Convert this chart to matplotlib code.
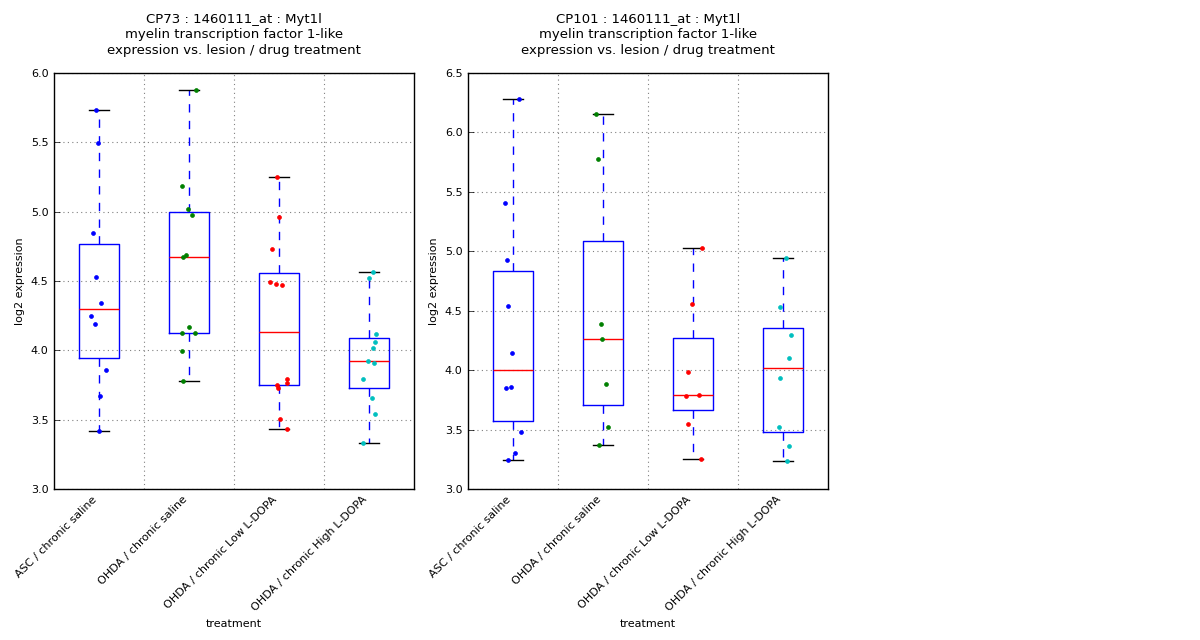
import matplotlib
matplotlib.use("Agg")
import matplotlib.pyplot as plt
import numpy as np

categories = ["ASC / chronic saline", "OHDA / chronic saline",
              "OHDA / chronic Low L-DOPA", "OHDA / chronic High L-DOPA"]
point_colors = ["#0000ff", "#008000", "#ff0000", "#00bfbf"]

titles = ["CP73 : 1460111_at : Myt1l\nmyelin transcription factor 1-like\nexpression vs. lesion / drug treatment",
          "CP101 : 1460111_at : Myt1l\nmyelin transcription factor 1-like\nexpression vs. lesion / drug treatment"]

# CP73 values per group
cp73_asc = [5.733, 5.497, 4.849, 4.531, 4.344, 4.250, 4.192, 3.861, 3.673, 3.421]
cp73_ohda_saline = [5.877, 5.185, 5.022, 4.976, 4.690, 4.676, 4.171, 4.127, 4.127, 3.998, 3.781]
cp73_low = [5.252, 4.964, 4.733, 4.495, 4.481, 4.471, 3.796, 3.767, 3.752, 3.731, 3.505, 3.433]
cp73_high = [4.567, 4.524, 4.120, 4.062, 4.019, 3.925, 3.909, 3.796, 3.659, 3.543, 3.332]

# CP101 values per group
cp101_asc = [6.281, 5.409, 4.927, 4.540, 4.147, 3.861, 3.853, 3.482, 3.306, 3.244]
cp101_ohda_saline = [6.158, 5.779, 4.388, 4.265, 3.886, 3.524, 3.373]
cp101_low = [5.030, 4.559, 3.987, 3.794, 3.785, 3.550, 3.255]
cp101_high = [4.944, 4.531, 4.296, 4.102, 3.934, 3.522, 3.362, 3.236]

# horizontal jitter of the points (as drawn in the reference)
cp73_jitter = [
    [-0.03, -0.01, -0.07, -0.03, 0.02, -0.09, -0.04, 0.08, 0.01, 0.0],
    [0.074, -0.081, -0.007, 0.03, -0.037, -0.067, -0.004, -0.081, 0.063, -0.081, -0.07],
    [-0.026, -0.004, -0.081, -0.096, -0.037, 0.03, 0.085, 0.085, -0.026, -0.015, 0.007, 0.085],
    [0.041, -0.004, 0.074, 0.063, 0.041, -0.015, 0.052, -0.07, 0.03, 0.063, -0.07],
]
cp101_jitter = [
    [0.067, -0.093, -0.07, -0.059, -0.015, -0.026, -0.081, 0.089, 0.019, -0.059],
    [-0.081, -0.059, -0.026, -0.015, 0.03, 0.052, -0.048],
    [0.096, -0.015, -0.059, 0.063, -0.081, -0.059, 0.085],
    [0.03, -0.03, 0.085, 0.063, -0.03, -0.041, 0.063, 0.041],
]

datasets = [
    ([cp73_asc, cp73_ohda_saline, cp73_low, cp73_high], cp73_jitter, (3.0, 6.0)),
    ([cp101_asc, cp101_ohda_saline, cp101_low, cp101_high], cp101_jitter, (3.0, 6.5)),
]

fig = plt.figure(figsize=(12, 6.4), dpi=100)
axes_rects = [[0.045, 0.236, 0.300, 0.650], [0.390, 0.236, 0.300, 0.650]]

for rect, (groups, jitter, ylim), title in zip(axes_rects, datasets, titles):
    ax = fig.add_axes(rect)
    pos = np.arange(1, len(groups) + 1)
    ax.boxplot(groups, positions=pos, widths=0.45, whis=(0, 100),
               showfliers=False,
               boxprops=dict(color="#0000ff", linewidth=1.0),
               medianprops=dict(color="#ff0000", linewidth=1.0),
               whiskerprops=dict(color="#0000ff", linewidth=1.0, linestyle=(0, (6, 6))),
               capprops=dict(color="black", linewidth=1.0))
    for i, (vals, jit) in enumerate(zip(groups, jitter)):
        xs = pos[i] + np.array(jit)
        ax.plot(xs, vals, "o", color=point_colors[i], markersize=2.8,
                markeredgecolor=point_colors[i], markeredgewidth=0.5, zorder=3)
    ax.set_xlim(0.5, len(groups) + 0.5)
    ax.set_ylim(*ylim)
    ticks = np.arange(ylim[0], ylim[1] + 0.01, 0.5)
    ax.set_yticks(ticks)
    ax.set_yticklabels([f"{v:.1f}" for v in ticks], fontsize=8)
    ax.set_xticks(pos)
    ax.set_xticklabels(categories, rotation=45, ha="right", fontsize=8)
    ax.set_xticks(pos[:-1] + 0.5, minor=True)
    ax.tick_params(axis="x", which="both", length=0, pad=4)
    ax.tick_params(axis="y", direction="in", length=4, width=0.5, pad=4)
    ax.grid(True, axis="y", which="major", color="#808080", linestyle=(0, (1, 3)), linewidth=0.8)
    ax.grid(True, axis="x", which="minor", color="#808080", linestyle=(0, (1, 3)), linewidth=0.8)
    ax.set_axisbelow(True)
    for s in ax.spines.values():
        s.set_linewidth(1.0)
    ax.set_xlabel("treatment", fontsize=8)
    ax.set_ylabel("log2 expression", fontsize=8)
    ax.set_title(title, fontsize=9.5, pad=14, linespacing=1.25)

fig.savefig("out.png", dpi=100)
